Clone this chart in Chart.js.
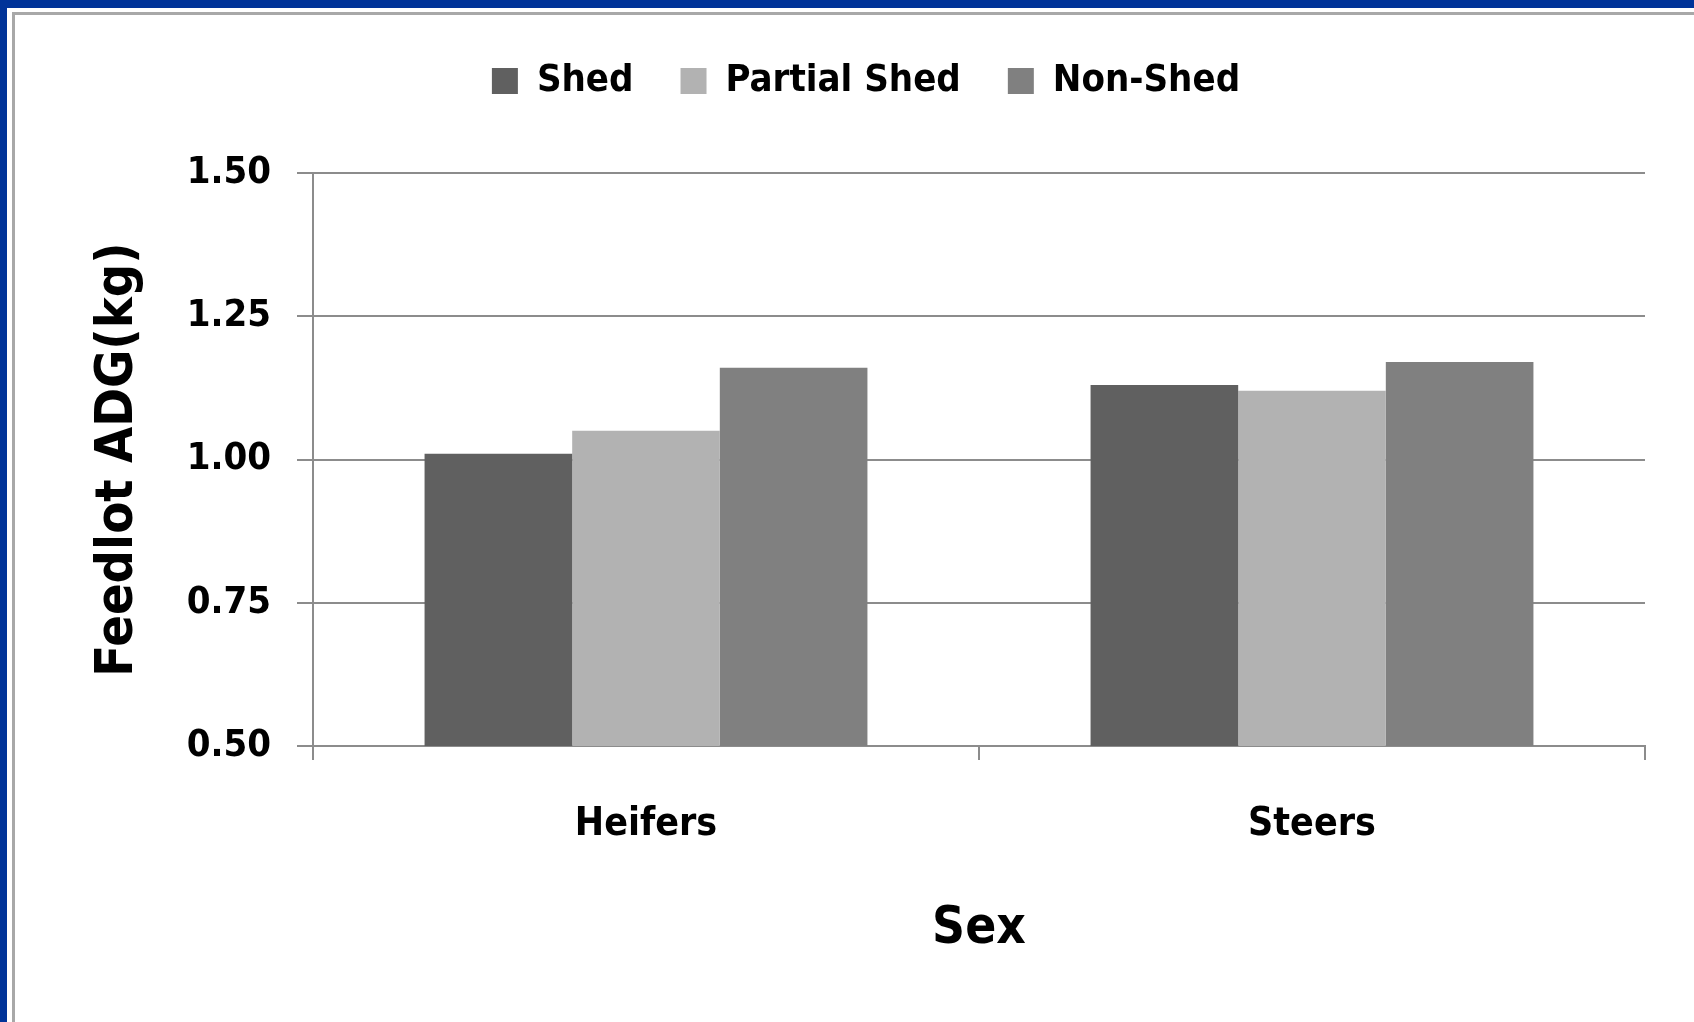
<!DOCTYPE html>
<html lang="en">
<head>
<meta charset="UTF-8">
<title>Feedlot ADG by Sex</title>
<script src="https://cdn.jsdelivr.net/npm/chart.js"></script>
<style>
    html, body {
        margin: 0;
        padding: 0;
        background: #003399;
        width: 1694px;
        height: 1022px;
        overflow: hidden;
    }
    #panel {
        position: absolute;
        left: 7px;
        top: 8px;
        right: 0;
        bottom: 0;
        background: #ffffff;
    }
    #frame {
        position: absolute;
        left: 12px;
        top: 12px;
        width: 1679px;
        height: 1007px;
        border: 3px solid #a8a8a8;
        border-right: none;
        background: #ffffff;
    }
    #myBarChart {
        position: absolute;
        left: 0;
        top: 0;
    }
</style>
</head>
<body>
<div id="panel"></div>
<div id="frame"></div>
<canvas id="myBarChart" width="1694" height="1022"></canvas>

<script>
var categories = ['Heifers', 'Steers'];
var seriesNames = ['Shed', 'Partial Shed', 'Non-Shed'];
var shedValues = [1.01, 1.13];
var partialShedValues = [1.05, 1.12];
var nonShedValues = [1.16, 1.17];
var yTicks = [0.50, 0.75, 1.00, 1.25, 1.50];
var barColors = ['#606060', '#b2b2b2', '#808080'];

var fontFamily = "'DejaVu Sans Condensed', 'Liberation Sans Narrow', 'DejaVu Sans', sans-serif";
var gridColor = '#8c8c8c';

var chartData = {
    labels: categories,
    datasets: [shedValues, partialShedValues, nonShedValues].map(function (values, i) {
        return {
            label: seriesNames[i],
            data: values,
            backgroundColor: barColors[i],
            borderWidth: 0,
            categoryPercentage: 0.665,
            barPercentage: 1.0
        };
    })
};

// leave extra room between the legend and the plot area
var legendGap = {
    id: 'legendGap',
    beforeInit: function (chart) {
        var originalFit = chart.legend.fit;
        chart.legend.fit = function () {
            originalFit.bind(chart.legend)();
            this.height += 63;
        };
    }
};

var chartOptions = {
    responsive: false,
    animation: false,
    layout: {
        padding: { left: 87, right: 49, top: 15, bottom: 62 }
    },
    plugins: {
        tooltip: { enabled: false },
        legend: {
            position: 'top',
            labels: {
                boxWidth: 26,
                boxHeight: 26,
                padding: 47,
                color: '#000000',
                font: { family: fontFamily, size: 38, weight: 'bold' }
            }
        }
    },
    scales: {
        x: {
            grid: {
                display: true,
                drawOnChartArea: false,
                drawTicks: true,
                tickLength: 14,
                color: gridColor,
                lineWidth: 2,
                offset: true
            },
            border: { display: true, color: gridColor, width: 2 },
            ticks: {
                color: '#000000',
                padding: 41,
                font: { family: fontFamily, size: 39, weight: 'bold' }
            },
            title: {
                display: true,
                text: 'Sex',
                color: '#000000',
                padding: { top: 0, bottom: 0 },
                font: { family: fontFamily, size: 51, weight: 'bold' }
            },
            afterFit: function (scale) {
                scale.height = 214;
            }
        },
        y: {
            min: yTicks[0],
            max: yTicks[yTicks.length - 1],
            afterBuildTicks: function (scale) {
                scale.ticks = yTicks.map(function (v) { return { value: v }; });
            },
            grid: {
                color: gridColor,
                lineWidth: 2,
                tickLength: 16,
                drawTicks: true
            },
            border: { display: true, color: gridColor, width: 2 },
            ticks: {
                color: '#000000',
                padding: 26,
                font: { family: fontFamily, size: 38, weight: 'bold' },
                callback: function (value) { return Number(value).toFixed(2); }
            },
            title: {
                display: true,
                text: 'Feedlot ADG(kg)',
                color: '#000000',
                padding: { top: 0, bottom: 0 },
                font: { family: fontFamily, size: 52, weight: 'bold' }
            },
            afterFit: function (scale) {
                scale.width = 313 - 87;
            }
        }
    }
};

var ctx = document.getElementById('myBarChart').getContext('2d');
var myBarChart = new Chart(ctx, {
    type: 'bar',
    data: chartData,
    options: chartOptions,
    plugins: [legendGap]
});
</script>
</body>
</html>
